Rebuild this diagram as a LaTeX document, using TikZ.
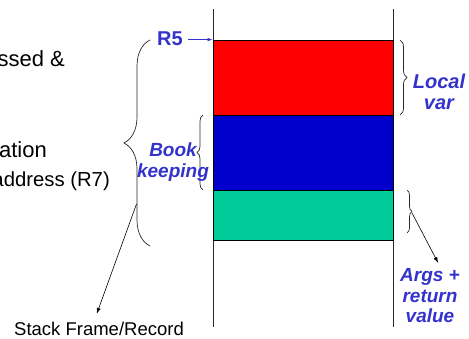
\documentclass[tikz,border=0pt]{standalone}
\usepackage{fontspec}
\setmainfont{Liberation Sans}
\usetikzlibrary{decorations.pathreplacing,arrows.meta}
\definecolor{labelblue}{RGB}{51,51,204}
\definecolor{cellred}{RGB}{255,0,0}
\definecolor{cellblue}{RGB}{0,0,204}
\definecolor{cellgreen}{RGB}{0,204,153}
\definecolor{edgegray}{RGB}{40,40,40}

\begin{document}
\begin{tikzpicture}[x=1pt,y=-1pt,
  cell/.style={draw=black,line width=0.8pt,minimum width=180pt,inner sep=0pt},
  wall/.style={draw=edgegray,line width=0.9pt},
  curly/.style={draw=edgegray,line width=0.7pt,decorate,decoration={brace,amplitude=#1}},
  tag/.style={text=labelblue,font=\fontsize{19}{20.5}\selectfont\bfseries\itshape,align=center,inner sep=0pt},
  plain/.style={inner sep=0pt,anchor=base east},
  pointer/.style={draw=black,line width=0.6pt,-{Latex[length=6pt,width=4pt]}}
]
\useasboundingbox (0,0) rectangle (469,339);
\clip (0,0) rectangle (469,339);

% stack walls
\draw[wall] (213,9) -- (213,327);
\draw[wall] (393,9) -- (393,327);

% stack frame cells
\node[cell,fill=cellred,minimum height=75pt]   (local) at (303,77.5)  {};
\node[cell,fill=cellblue,minimum height=75pt]  (book)  at (303,152.5) {};
\node[cell,fill=cellgreen,minimum height=50pt] (args)  at (303,215)   {};

% frame pointer
\node[text=labelblue,font=\fontsize{20}{24}\selectfont\bfseries,inner sep=0pt] (r5) at (170,38.7) {R5};
\draw[draw=labelblue,line width=0.7pt,-{Latex[length=5pt,width=3.5pt]},shorten <=5pt]
  (r5.east |- local.north west) -- (local.north west);

% braces
\draw[curly=26pt] (150,246) -- (150,40);
\draw[curly=6pt]  (203,190) -- (203,115);
\draw[curly=7pt]  (400,40)  -- (400,115);
\draw[curly=5pt]  (407,190) -- (407,233);
\coordinate (framebr) at (136.5,204);
\coordinate (argsbr)  at (412,213);

% labels
\node[tag] (booktxt)  at (173,162)   {Book\\keeping};
\node[tag,font=\fontsize{20}{21}\selectfont\bfseries\itshape] (localtxt) at (439,92.3) {Local\\var};
\node[tag] (argstxt)  at (430,295.7) {Args +\\return\\value};

% left-hand text
\node[plain,font=\fontsize{22}{26}\selectfont] (t1) at (65,67)  {ssed \&};
\node[plain,font=\fontsize{22}{26}\selectfont] (t2) at (47,158) {ation};
\node[plain,font=\fontsize{20.3}{24}\selectfont] (t3) at (110,187) {address (R7)};
\node[inner sep=0pt,anchor=base,font=\fontsize{18.5}{22}\selectfont] (frame) at (99,335) {Stack Frame/Record};

% pointers to captions
\draw[pointer,shorten >=8pt] (framebr) -- ([xshift=-5pt]frame.north);
\draw[pointer,shorten >=6pt] (argsbr) -- ([xshift=11pt]argstxt.north);
\end{tikzpicture}
\end{document}
